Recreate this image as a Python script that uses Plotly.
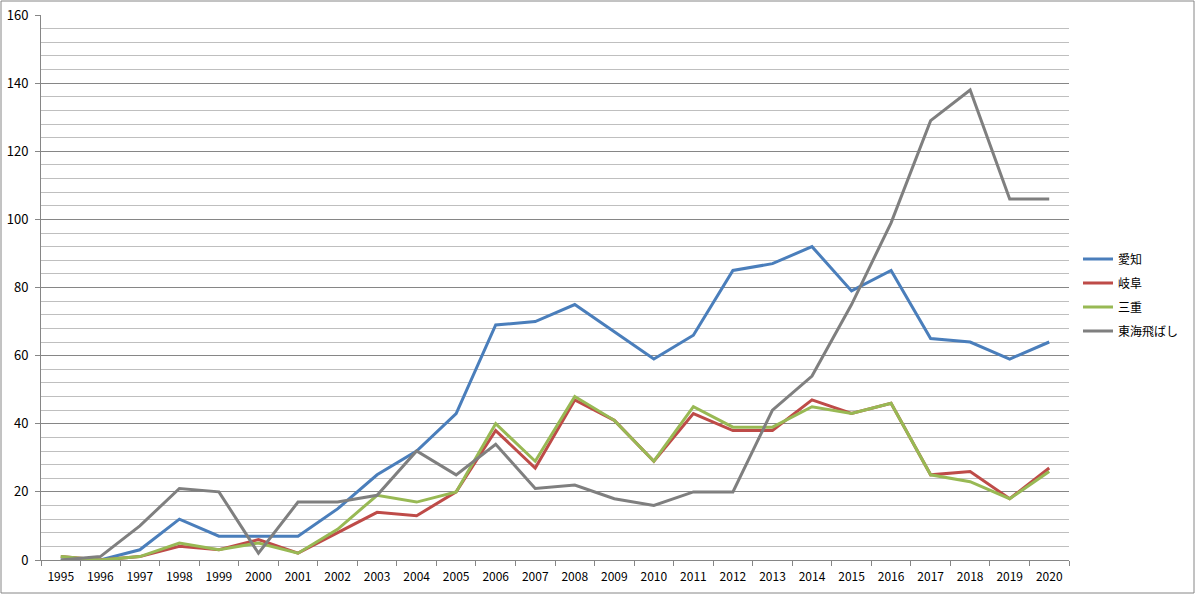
import plotly.graph_objects as go

years = [str(y) for y in range(1995, 2021)]
aichi = [0, 0, 3, 12, 7, 7, 7, 15, 25, 32, 43, 69, 70, 75, 67, 59, 66, 85, 87, 92, 79, 85, 65, 64, 59, 64]
gifu = [1, 0, 1, 4, 3, 6, 2, 8, 14, 13, 20, 38, 27, 47, 41, 29, 43, 38, 38, 47, 43, 46, 25, 26, 18, 27]
mie = [1, 0, 1, 5, 3, 5, 2, 9, 19, 17, 20, 40, 29, 48, 41, 29, 45, 39, 39, 45, 43, 46, 25, 23, 18, 26]
tokai = [0, 1, 10, 21, 20, 2, 17, 17, 19, 32, 25, 34, 21, 22, 18, 16, 20, 20, 44, 54, 75, 99, 129, 138, 106, 106]

series = [
    ("愛知", aichi, "#4A7EBB"),
    ("岐阜", gifu, "#BE4B48"),
    ("三重", mie, "#98B954"),
    ("東海飛ばし", tokai, "#7F7F7F"),
]

fig = go.Figure()
for name, vals, color in series:
    fig.add_trace(go.Scatter(x=years, y=vals, name=name, mode="lines", legendgroup=name,
                             line=dict(color=color, width=3)))

W, H = 1196, 595
L, R, T, B = 41, 127, 15, 35
pw, ph = W - L - R, H - T - B

fig.update_layout(
    width=W, height=H,
    margin=dict(l=L, r=R, t=T, b=B, autoexpand=False),
    paper_bgcolor="white", plot_bgcolor="white",
    font=dict(family="Noto Sans CJK JP, DejaVu Sans", size=12, color="black"),
    showlegend=True,
    legend=dict(x=(1078 - L) / pw, xanchor="left", y=(560 - 295) / ph, yanchor="middle",
                font=dict(size=12), tracegroupgap=5, bgcolor="rgba(0,0,0,0)"),
    xaxis=dict(type="category", range=[-0.5, 25.5], showgrid=False,
               showline=True, linecolor="#868686", linewidth=1,
               ticks="outside", tickson="boundaries", ticklen=5, tickcolor="#868686",
               tickfont=dict(size=12), ticklabelstandoff=6),
    yaxis=dict(range=[0, 160], dtick=20, tick0=0, showgrid=True, gridcolor="#868686",
               gridwidth=1, showline=True, linecolor="#868686", linewidth=1,
               ticks="outside", ticklen=5, tickcolor="#868686", zeroline=False,
               tickfont=dict(size=13), ticklabelstandoff=4,
               minor=dict(dtick=4, showgrid=True, gridcolor="#BFBFBF", gridwidth=1)),
    shapes=[dict(type="rect", xref="paper", yref="paper",
                 x0=(1 - L) / pw, x1=(1194 - L) / pw,
                 y0=(560 - 593) / ph, y1=(560 - 1) / ph,
                 line=dict(color="#868686", width=1), fillcolor="rgba(0,0,0,0)", layer="below")],
)

fig.write_html("out.html", config={"displayModeBar": False},
               post_script="document.body.style.margin='0';")
